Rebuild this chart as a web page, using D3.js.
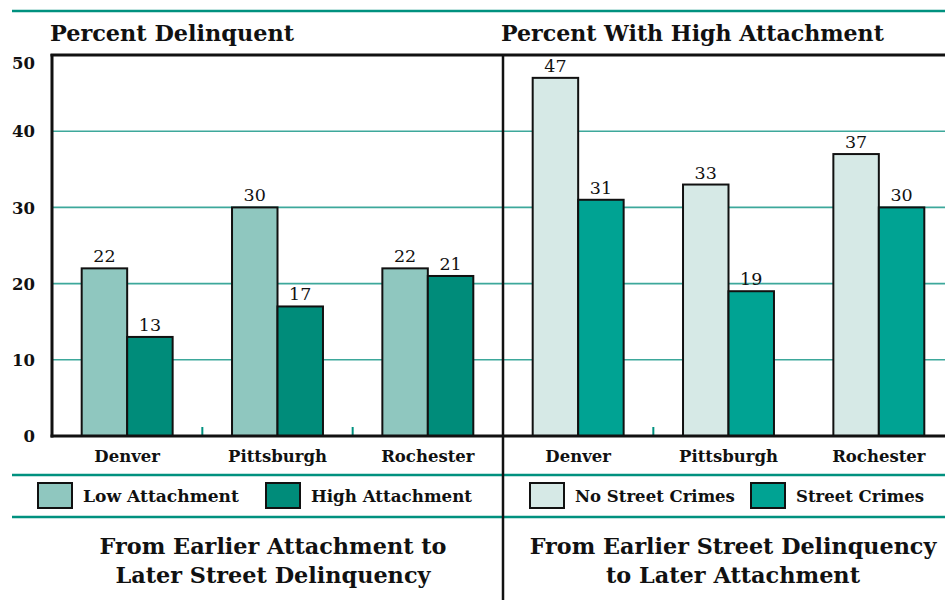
<!DOCTYPE html>
<html><head><meta charset="utf-8">
<script src="https://cdn.jsdelivr.net/npm/d3@7"></script>
<style>body{margin:0;background:#fff}svg{display:block}text{font-family:"DejaVu Serif",serif;fill:#111}</style>
</head><body><svg id="c" width="945" height="600"></svg>
<script>
const cities = ["Denver", "Pittsburgh", "Rochester"];
const leftTitle = "Percent Delinquent";
const rightTitle = "Percent With High Attachment";
const leftSeries = ["Low Attachment", "High Attachment"];
const rightSeries = ["No Street Crimes", "Street Crimes"];
const lowAttachment = [22, 30, 22];
const highAttachment = [13, 17, 21];
const noStreetCrimes = [47, 33, 37];
const streetCrimes = [31, 19, 30];
const yTicks = [0, 10, 20, 30, 40, 50];
const leftCaption = ["From Earlier Attachment to", "Later Street Delinquency"];
const rightCaption = ["From Earlier Street Delinquency", "to Later Attachment"];

const svg = d3.select("#c");
const teal = "#00917f", grid = "#3da89b";
const y = d3.scaleLinear().domain([0, 50]).range([436, 55]);
const W = 451;
function fit(t, w) {
  const s = +t.attr("font-size");
  const cw = t.node().getComputedTextLength();
  t.attr("font-size", (s * w / cw).toFixed(2));
  return t;
}
const panels = [
  {x0: 52, title: leftTitle, titleW: 244, series: leftSeries, legX: [38, 266], legW: [156, 161],
   vals: [lowAttachment, highAttachment], colors: ["#8fc7bf", "#008c7a"], caption: leftCaption, capW: [347, 315], capX: 273, ticks: [1, 2]},
  {x0: 503, title: rightTitle, titleW: 383, series: rightSeries, legX: [530, 751], legW: [160, 128],
   vals: [noStreetCrimes, streetCrimes], colors: ["#d6e9e6", "#00a393"], caption: rightCaption, capW: [407, 254], capX: 733, ticks: [1]}
];

// teal rules
[11, 475, 517].forEach(yy =>
  svg.append("line").attr("x1", 12).attr("x2", 945).attr("y1", yy).attr("y2", yy)
    .attr("stroke", teal).attr("stroke-width", 2.5));

// gridlines
svg.append("g").selectAll("line").data(yTicks.filter(t => t > 0 && t < 50)).join("line")
  .attr("x1", 53).attr("x2", 945).attr("y1", d => y(d)).attr("y2", d => y(d))
  .attr("stroke", grid).attr("stroke-width", 1.6);

panels.forEach(p => {
  const x = d3.scaleBand().domain(cities).range([p.x0, p.x0 + W]);
  const gw = x.bandwidth() * 0.605;
  const xs = d3.scaleBand().domain([0, 1]).range([0, gw]);
  const off = (x.bandwidth() - gw) / 2;
  const g = svg.append("g");
  p.vals.forEach((arr, si) => {
    g.selectAll(null).data(arr).join("rect")
      .attr("x", (d, i) => x(cities[i]) + off + xs(si))
      .attr("y", d => y(d)).attr("width", xs.bandwidth()).attr("height", d => y(0) - y(d))
      .attr("fill", p.colors[si]).attr("stroke", "#111").attr("stroke-width", 2);
    g.selectAll(null).data(arr).join("text")
      .attr("x", (d, i) => x(cities[i]) + off + xs(si) + xs.bandwidth() / 2)
      .attr("y", d => y(d) - 6).attr("text-anchor", "middle")
      .attr("font-size", 17.5).text(d => d);
  });
  g.selectAll(null).data(p.ticks).join("line")
    .attr("x1", i => x.range()[0] + i * x.bandwidth()).attr("x2", i => x.range()[0] + i * x.bandwidth())
    .attr("y1", 427).attr("y2", 435).attr("stroke", teal).attr("stroke-width", 2);
  const ax = svg.append("g").attr("transform", "translate(0,436)")
    .call(d3.axisBottom(x).tickSize(0).tickPadding(0));
  ax.select(".domain").remove();
  ax.selectAll("text").attr("y", 26).attr("dy", 0).attr("font-size", 16.5).attr("font-weight", "bold")
    .attr("font-family", "DejaVu Serif").attr("fill", "#111");
  const tt = svg.append("text").attr("x", p.x0 - 2).attr("y", 41).attr("font-size", 22)
    .attr("font-weight", "bold").text(p.title);
  fit(tt, p.titleW);
  p.series.forEach((s, si) => {
    const lx = p.legX[si];
    svg.append("rect").attr("x", lx).attr("y", 483).attr("width", 34).attr("height", 25)
      .attr("fill", p.colors[si]).attr("stroke", "#111").attr("stroke-width", 2);
    const t = svg.append("text").attr("x", lx + 45).attr("y", 502).attr("font-size", 15)
      .attr("font-weight", "bold").text(s);
    fit(t, p.legW[si]);
  });
  p.caption.forEach((c, i) => {
    const t = svg.append("text").attr("x", p.capX).attr("y", 554 + i * 29).attr("text-anchor", "middle")
      .attr("font-size", 23).attr("font-weight", "bold").text(c);
    fit(t, p.capW[i]);
  });
});

const ya = svg.append("g").attr("transform", "translate(35,0)")
  .call(d3.axisLeft(y).tickValues(yTicks).tickSize(0).tickPadding(0));
ya.select(".domain").remove();
ya.selectAll("text").attr("font-size", 16.5).attr("font-weight", "bold").attr("font-family", "DejaVu Serif")
  .attr("fill", "#111").attr("dy", d => d === 50 ? "0.8em" : "0.35em");

const k = "#111";
svg.append("line").attr("x1", 50.5).attr("x2", 945).attr("y1", 55).attr("y2", 55).attr("stroke", k).attr("stroke-width", 3);
svg.append("line").attr("x1", 50.5).attr("x2", 945).attr("y1", 436).attr("y2", 436).attr("stroke", k).attr("stroke-width", 3);
svg.append("line").attr("x1", 52).attr("x2", 52).attr("y1", 54).attr("y2", 437.5).attr("stroke", k).attr("stroke-width", 3);
svg.append("line").attr("x1", 503).attr("x2", 503).attr("y1", 54).attr("y2", 600).attr("stroke", k).attr("stroke-width", 2.5);
</script></body></html>
